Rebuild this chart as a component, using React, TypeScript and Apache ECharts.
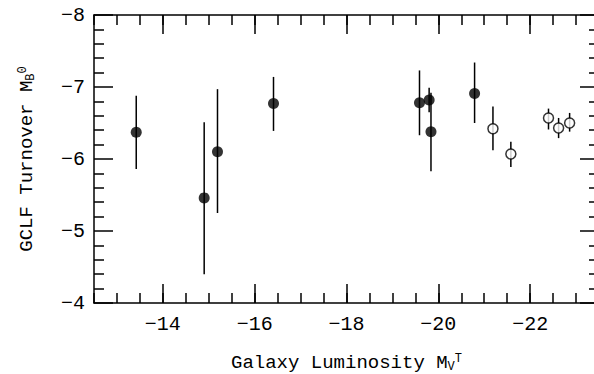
import React, { useEffect, useRef } from "react";
import * as echarts from "echarts";

// Elliptical galaxies (filled symbols): total V magnitude, GCLF turnover, error-bar ends
const filledMv = [-13.42, -14.9, -15.19, -16.41, -19.59, -19.8, -19.84, -20.79];
const filledTurnover = [-6.37, -5.46, -6.1, -6.77, -6.78, -6.82, -6.38, -6.91];
const filledLow = [-5.86, -4.4, -5.25, -6.39, -6.33, -6.65, -5.83, -6.5];
const filledHigh = [-6.88, -6.51, -6.97, -7.14, -7.23, -6.99, -6.92, -7.34];

// Spiral galaxies (open symbols)
const openMv = [-21.19, -21.58, -22.4, -22.62, -22.86];
const openTurnover = [-6.42, -6.07, -6.57, -6.43, -6.5];
const openLow = [-6.12, -5.89, -6.41, -6.29, -6.38];
const openHigh = [-6.73, -6.24, -6.7, -6.57, -6.64];

// Axis ticks
const xMajorTicks = [-14, -16, -18, -20, -22];
const xMin = -23.5;
const xMax = -12.5;
const yMin = -8;
const yMax = -4;

const FONT = "Liberation Mono";
const minus = (v: number) => String(v).replace("-", "\u2212");

function errorSeries(mv: number[], lo: number[], hi: number[]) {
  return {
    type: "custom",
    xAxisIndex: 0,
    yAxisIndex: 0,
    data: mv.map((x, i) => [x, lo[i], hi[i]]),
    encode: { x: 0, y: [1, 2] },
    renderItem: (_params: any, api: any) => {
      const p1 = api.coord([api.value(0), api.value(1)]);
      const p2 = api.coord([api.value(0), api.value(2)]);
      return {
        type: "line",
        shape: { x1: p1[0], y1: p1[1], x2: p2[0], y2: p2[1] },
        style: { stroke: "#000", lineWidth: 1.5 },
      };
    },
    z: 1,
  };
}

const titleRich = {
  a: { fontFamily: FONT, fontSize: 19, lineHeight: 20, color: "#000" },
  sub: { fontFamily: FONT, fontSize: 12, lineHeight: 8, verticalAlign: "bottom", color: "#000" },
  sup: { fontFamily: FONT, fontSize: 12, lineHeight: 8, verticalAlign: "top", color: "#000" },
};

export default function App() {
  const ref = useRef<HTMLDivElement>(null);

  useEffect(() => {
    if (!ref.current) return;
    const chart = echarts.init(ref.current, undefined, { renderer: "svg" });

    const lineStyle = { color: "#000", width: 1.5 };
    const baseX = {
      type: "value",
      min: xMin,
      max: xMax,
      inverse: true,
      splitLine: { show: false },
    };
    const majorX = (position: string, labels: boolean) => ({
      ...baseX,
      position,
      axisLine: { show: true, lineStyle },
      axisTick: {
        show: true,
        inside: true,
        length: 19,
        customValues: xMajorTicks,
        lineStyle,
      },
      axisLabel: {
        show: labels,
        customValues: xMajorTicks,
        formatter: minus,
        color: "#000",
        fontFamily: FONT,
        fontSize: 20,
        margin: 11,
      },
    });
    const minorX = (position: string) => ({
      ...baseX,
      position,
      interval: 0.5,
      axisLine: { show: false },
      axisTick: { show: true, inside: true, length: 10, lineStyle },
      axisLabel: { show: false },
    });
    const yAx = (position: string, labels: boolean) => ({
      type: "value",
      position,
      min: yMin,
      max: yMax,
      interval: 1,
      inverse: true,
      splitLine: { show: false },
      axisLine: { show: true, lineStyle },
      axisTick: { show: true, inside: true, length: 19, lineStyle },
      minorTick: {
        show: true,
        splitNumber: 5,
        length: 10,
        lineStyle: { color: "#000", width: 1.5 },
      },
      axisLabel: {
        show: labels,
        formatter: minus,
        color: "#000",
        fontFamily: FONT,
        fontSize: 20,
        margin: 9,
      },
    });

    const xBottom: any = majorX("bottom", true);
    xBottom.name = "{a|Galaxy Luminosity M}{sub|V}{sup|T}";
    xBottom.nameLocation = "middle";
    xBottom.nameGap = 50;
    xBottom.nameTextStyle = { color: "#000", fontFamily: FONT, rich: titleRich };

    const yLeft: any = yAx("left", true);
    yLeft.name = "{a|GCLF Turnover M}{sub|B}{sup|0}";
    yLeft.nameLocation = "middle";
    yLeft.nameGap = 57;
    yLeft.nameRotate = 90;
    yLeft.nameTextStyle = { color: "#000", fontFamily: FONT, rich: titleRich };

    chart.setOption({
      animation: false,
      backgroundColor: "#fff",
      grid: { left: 94, right: -5, top: 15, bottom: 71, outerBoundsMode: "none" },
      xAxis: [xBottom, minorX("bottom"), majorX("top", false), minorX("top")],
      yAxis: [yLeft, yAx("right", false)],
      series: [
        errorSeries(filledMv, filledLow, filledHigh),
        errorSeries(openMv, openLow, openHigh),
        {
          type: "scatter",
          xAxisIndex: 0,
          yAxisIndex: 0,
          data: filledMv.map((x, i) => [x, filledTurnover[i]]),
          symbol: "circle",
          symbolSize: 11,
          itemStyle: { color: "#000" },
          z: 3,
        },
        {
          type: "scatter",
          xAxisIndex: 0,
          yAxisIndex: 0,
          data: openMv.map((x, i) => [x, openTurnover[i]]),
          symbol: "circle",
          symbolSize: 10,
          itemStyle: { color: "#fff", borderColor: "#000", borderWidth: 1.5 },
          z: 3,
        },
      ],
    });

    return () => chart.dispose();
  }, []);

  return (
    <div
      ref={ref}
      style={{ position: "fixed", left: 0, top: 0, width: 594, height: 374, background: "#fff" }}
    />
  );
}
